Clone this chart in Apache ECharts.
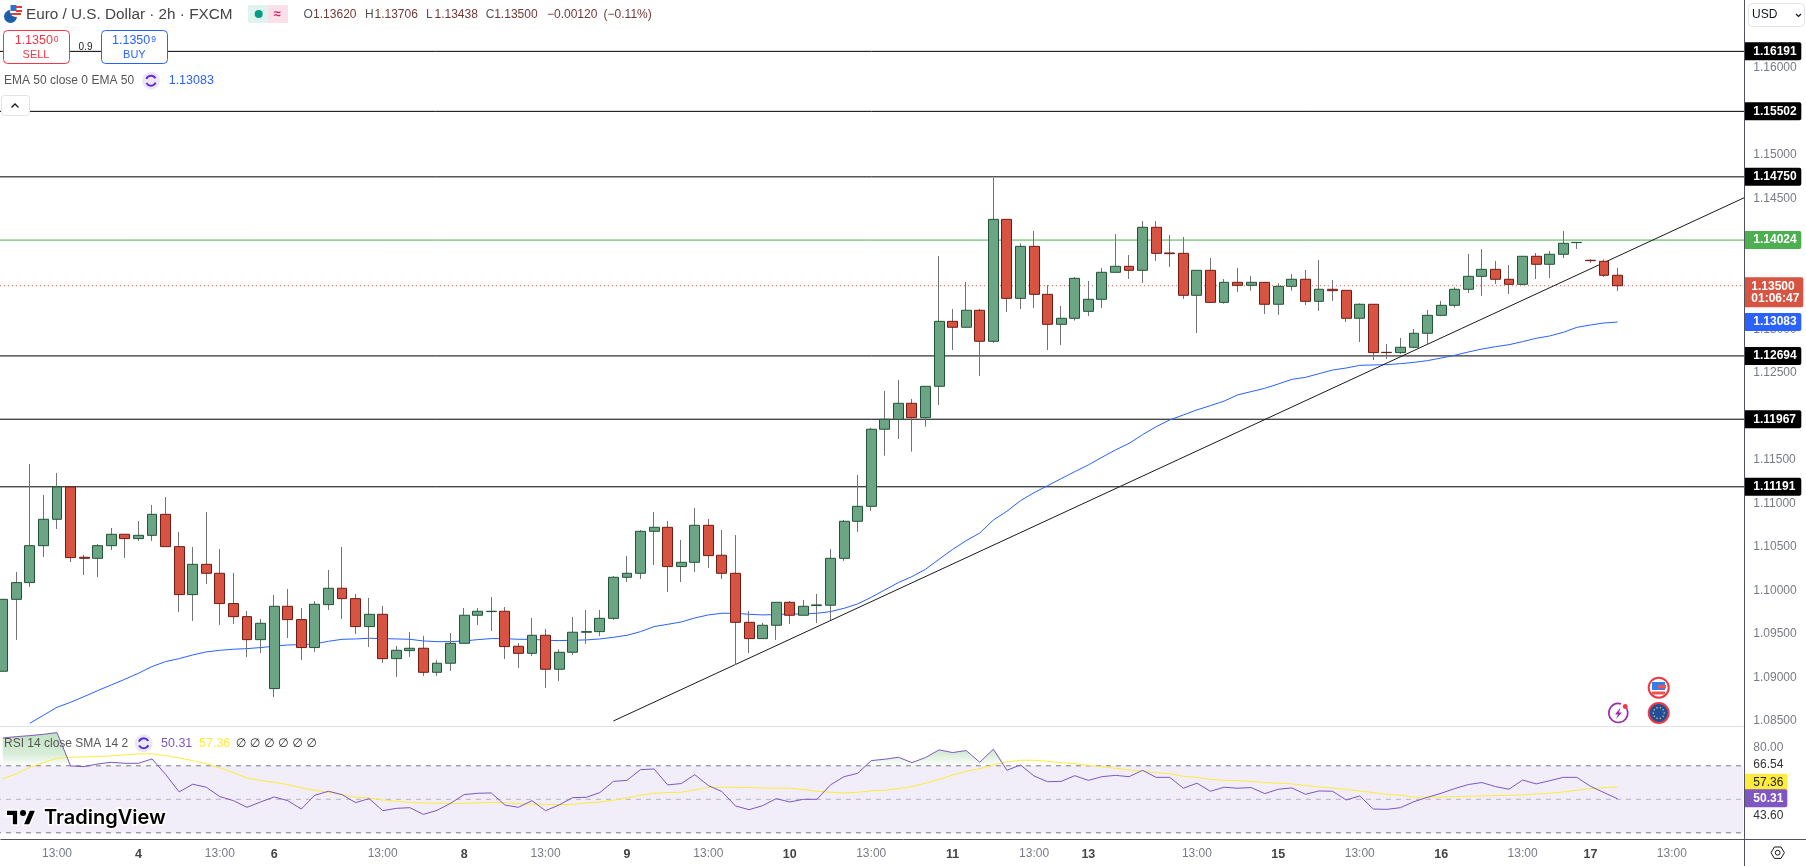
<!DOCTYPE html>
<html><head><meta charset="utf-8"><title>EUR/USD 2h</title>
<style>html,body{margin:0;padding:0;background:#fff}#c{width:1806px;height:866px}</style>
<script src="https://cdn.jsdelivr.net/npm/echarts@6/dist/echarts.min.js"></script>
</head><body><div id="c"></div>
<script>
const candleOpen=[1.09073,1.09899,1.10091,1.10515,1.10818,1.11189,1.10382,1.10370,1.10515,1.10646,
1.10596,1.10634,1.10875,1.10504,1.09953,1.10301,1.10198,1.09850,1.09700,1.09436,
1.08874,1.09819,1.09666,1.09345,1.09838,1.10026,1.09907,1.09586,1.09727,1.09218,
1.09310,1.09337,1.09061,1.09165,1.09394,1.09716,1.09758,1.09762,1.09360,1.09279,
1.09486,1.09096,1.09291,1.09521,1.09528,1.09681,1.10152,1.10198,1.10680,1.10726,
1.10275,1.10324,1.10749,1.10405,1.10198,1.09635,1.09448,1.09601,1.09865,1.09716,
1.09827,1.09831,1.10370,1.10795,1.10967,1.11852,1.11966,1.12150,1.11985,1.12345,
1.13091,1.13023,1.13218,1.12862,1.14262,1.13355,1.13952,1.13401,1.13057,1.13126,
1.13206,1.13344,1.13654,1.13723,1.13677,1.14171,1.13876,1.13872,1.13390,1.13677,
1.13309,1.13539,1.13505,1.13539,1.13287,1.13493,1.13574,1.13321,1.13459,1.13447,
1.13126,1.13287,1.12735,1.12732,1.12793,1.12954,1.13160,1.13275,1.13459,1.13608,
1.13688,1.13574,1.13516,1.13838,1.13746,1.13861,1.13995,1.13792,1.13780,1.13620];
const candleHigh=[1.09899,1.10213,1.11453,1.11097,1.11350,1.11189,1.10408,1.10535,1.10718,1.10646,
1.10799,1.10982,1.11074,1.10672,1.10500,1.10902,1.10477,1.10202,1.09766,1.09674,
1.09949,1.10018,1.09800,1.09880,1.10236,1.10500,1.09961,1.09915,1.09823,1.09364,
1.09525,1.09479,1.09203,1.09513,1.09800,1.09800,1.09926,1.09811,1.09398,1.09685,
1.09559,1.09326,1.09697,1.09777,1.09777,1.10167,1.10397,1.10695,1.10902,1.10799,
1.10581,1.10948,1.10822,1.10695,1.10638,1.09766,1.09628,1.09865,1.09880,1.09892,
1.09961,1.10477,1.10810,1.11327,1.11870,1.12292,1.12418,1.12200,1.12345,1.13842,
1.13233,1.13543,1.13233,1.14737,1.14262,1.13987,1.14128,1.13508,1.13267,1.13600,
1.13554,1.13704,1.14094,1.13853,1.14243,1.14243,1.14083,1.14060,1.13677,1.13818,
1.13577,1.13704,1.13612,1.13539,1.13528,1.13635,1.13681,1.13796,1.13566,1.13447,
1.13298,1.13287,1.12831,1.12900,1.13003,1.13221,1.13325,1.13482,1.13864,1.13922,
1.13784,1.13738,1.13838,1.13876,1.13899,1.14128,1.13998,1.13803,1.13803,1.13706];
const candleLow=[1.09073,1.09433,1.10041,1.10385,1.10707,1.10328,1.10179,1.10156,1.10466,1.10374,
1.10569,1.10569,1.10504,1.09754,1.09651,1.10075,1.09605,1.09616,1.09237,1.09283,
1.08778,1.09455,1.09203,1.09295,1.09777,1.09674,1.09502,1.09352,1.09169,1.09008,
1.09237,1.09019,1.09019,1.09077,1.09394,1.09605,1.09536,1.09214,1.09111,1.09249,
1.08881,1.08962,1.09260,1.09387,1.09478,1.09662,1.10098,1.10133,1.10294,1.09983,
1.10098,1.10213,1.10259,1.10133,1.09146,1.09283,1.09448,1.09433,1.09616,1.09716,
1.09628,1.09662,1.10340,1.10672,1.10914,1.11549,1.11741,1.11595,1.11882,1.12131,
1.12762,1.13023,1.12464,1.12843,1.13199,1.13233,1.13244,1.12762,1.12820,1.13099,
1.13153,1.13244,1.13654,1.13578,1.13531,1.13784,1.13715,1.13348,1.12957,1.13309,
1.13294,1.13428,1.13443,1.13176,1.13164,1.13443,1.13279,1.13210,1.13325,1.13084,
1.12854,1.12647,1.12659,1.12716,1.12781,1.12831,1.13149,1.13248,1.13417,1.13382,
1.13520,1.13405,1.13505,1.13577,1.13589,1.13818,1.13922,1.13761,1.13600,1.13438];
const candleClose=[1.09899,1.10091,1.10515,1.10818,1.11189,1.10378,1.10370,1.10515,1.10646,1.10596,
1.10634,1.10875,1.10504,1.09953,1.10301,1.10198,1.09850,1.09700,1.09436,1.09624,
1.09819,1.09666,1.09345,1.09842,1.10026,1.09907,1.09586,1.09727,1.09218,1.09314,
1.09337,1.09061,1.09165,1.09394,1.09716,1.09762,1.09762,1.09356,1.09279,1.09486,
1.09096,1.09291,1.09521,1.09528,1.09681,1.10152,1.10198,1.10680,1.10726,1.10275,
1.10324,1.10749,1.10401,1.10198,1.09635,1.09448,1.09601,1.09865,1.09716,1.09819,
1.09835,1.10370,1.10795,1.10967,1.11852,1.11966,1.12150,1.11985,1.12345,1.13091,
1.13023,1.13218,1.12862,1.14262,1.13355,1.13952,1.13401,1.13057,1.13126,1.13585,
1.13344,1.13654,1.13723,1.13677,1.14171,1.13872,1.13868,1.13390,1.13677,1.13309,
1.13539,1.13505,1.13539,1.13287,1.13493,1.13574,1.13321,1.13459,1.13443,1.13126,
1.13287,1.12732,1.12732,1.12793,1.12954,1.13160,1.13275,1.13459,1.13608,1.13688,
1.13574,1.13516,1.13838,1.13746,1.13861,1.13987,1.13998,1.13788,1.13620,1.13500];
const emaValues=[null,null,1.08476,1.08568,1.08659,1.08717,1.08782,1.08851,1.08916,1.08981,
1.09050,1.09127,1.09184,1.09218,1.09260,1.09295,1.09314,1.09326,1.09333,1.09345,
1.09360,1.09375,1.09379,1.09387,1.09417,1.09440,1.09444,1.09452,1.09448,1.09444,
1.09440,1.09421,1.09413,1.09413,1.09421,1.09436,1.09448,1.09448,1.09440,1.09440,
1.09429,1.09425,1.09429,1.09433,1.09444,1.09463,1.09486,1.09528,1.09586,1.09612,
1.09639,1.09685,1.09720,1.09739,1.09739,1.09727,1.09720,1.09724,1.09731,1.09731,
1.09739,1.09758,1.09796,1.09846,1.09922,1.10007,1.10091,1.10160,1.10244,1.10359,
1.10473,1.10573,1.10661,1.10810,1.10910,1.11032,1.11124,1.11204,1.11285,1.11365,
1.11442,1.11530,1.11614,1.11690,1.11790,1.11882,1.11959,1.12016,1.12074,1.12123,
1.12175,1.12246,1.12284,1.12322,1.12372,1.12425,1.12448,1.12490,1.12532,1.12555,
1.12586,1.12590,1.12594,1.12605,1.12620,1.12640,1.12670,1.12701,1.12739,1.12773,
1.12800,1.12823,1.12858,1.12896,1.12923,1.12965,1.13022,1.13049,1.13072,1.13083];
const rsiValues=[86.6,87.4,88,88.8,89.8,69.9,69.5,71.1,72.1,71.5,
71.5,74.1,64.9,54.4,59,57.2,51.6,49.2,45.2,48.4,
51.4,49.2,44.2,52.4,54.8,52.8,48,50.4,43.2,44.6,
45,41,43.4,47.6,52.8,53.6,53.8,46.6,45.2,49.2,
43.2,46.6,51,51.2,54,60.7,61.3,67.7,68.1,58.6,
59.4,64.7,58.2,54.6,46,43.8,46.2,50.4,48.4,50,
50,58.6,63.5,65.5,73.1,73.9,75.1,71.9,74.9,79.5,
77.9,79.1,72.1,79.9,67.3,70.5,63.9,60.5,60.7,64.1,
61.3,63.5,64.3,63.5,67.3,63.1,63.1,56.6,59.6,54.8,
57.2,56.6,57,53.4,56,56.8,53,55,54.8,49.6,
52,44.2,44,45,48.6,51.2,53.6,56.4,58.8,60,
57.6,56,61.5,59.2,61.1,63.1,63.1,57.8,54,50.31];
const rsiSmaValues=[62.3,65.1,69.1,71.9,74.5,75.1,75.3,75.5,75.9,76.5,
77.1,77.1,76.1,74.7,73.1,71.3,68.7,65.9,62.7,61.3,
60.1,58.8,56.8,55.4,54.2,52.8,51.2,50.8,49.6,48.8,
48.2,47.8,47.6,47.6,47.6,47.8,48.2,48,47.4,47,
47,46.8,47,47.8,48.4,49.4,50.8,52.4,53.6,54,
54.2,55.6,57,57.2,57.2,57,56.8,56.6,56.6,55.8,
54.8,54.2,53.8,54.2,55,55.4,56.4,57.6,59.6,61.9,
64.5,66.7,68.3,70.5,72.3,73.3,73.3,72.7,71.9,71.3,
70.3,69.5,68.5,67.5,66.9,65.9,65.3,63.7,63.1,61.9,
61.3,61.1,60.7,60,59.6,59.2,58.2,57.4,56.8,55.8,
55,54,53,52.4,51.4,51.2,51.4,51.6,51.8,52,
52.2,52.4,52.6,53.2,53.6,54.4,55.4,56.4,56.9,57.36];
const blackLevels=[1.16191,1.15502,1.14750,1.12694,1.11967,1.11191];
const resistanceLevel=1.14024;
const lastClose=1.13500;
const emaLast=1.13083;
const trendStart=[45,1.08502];
const trendEnd=[128.34,1.14511];
const priceTicks=[1.085,1.09,1.095,1.10,1.105,1.11,1.115,1.12,1.125,1.13,1.135,1.14,1.145,1.15,1.155,1.16];
const rsiBands=[70,50,30];
const rsiTickValues=[80.9,70.4,40.4];
const rsiTickLabels=['80.00','66.54','43.60'];
const timeLabelIndex=[4,10,16,20,28,34,40,46,52,58,64,70,76,80,88,94,100,106,112,117,123];
const timeLabelText=['13:00','4','13:00','6','13:00','8','13:00','9','13:00','10','13:00','11','13:00','13','13:00','15','13:00','16','13:00','17','13:00'];
const slotCount=129;

const FONT='"Liberation Sans",Arial,sans-serif';
const paneEnd=128.34, idxMin=-0.5, idxMax=slotCount-0.5;
const cats=Array.from({length:slotCount},(_,i)=>{const k=timeLabelIndex.indexOf(i);return k>=0?timeLabelText[k]:'';});
const n=candleOpen.length;
const wickData=candleOpen.map((o,i)=>[o,candleClose[i],candleLow[i],candleHigh[i]]);
const bodyData=candleOpen.map((o,i)=>{const c=candleClose[i];return [o,c,Math.min(o,c),Math.max(o,c)];});
const obFill=rsiValues.map(v=>Math.max(v,70));

function tag(bg,color,extra){return Object.assign({show:true,position:'right',distance:0,backgroundColor:bg,color:color,
  fontFamily:FONT,fontSize:12,fontWeight:'bold',lineHeight:12,width:48,padding:[5,0,1,9],align:'left',borderRadius:[0,2,2,0]},extra||{});}
function level(v,color,opt){return Object.assign({type:'line',xAxisIndex:1,yAxisIndex:0,z:1,silent:true,symbol:'none',animation:false,
  data:[[idxMin,v],[paneEnd,v]],lineStyle:{color:color,width:1}},opt||{});}

const series=[];
blackLevels.forEach(v=>series.push(level(v,'#000',{endLabel:tag('#000','#fff',{formatter:()=>v.toFixed(5)})})));
series.push(level(resistanceLevel,'#4caf50',{endLabel:tag('#4caf50','#fff',{formatter:()=>resistanceLevel.toFixed(5)})}));
series.push(level(lastClose,'#d75442',{lineStyle:{color:'#d75442',width:1,type:[1,3]},z:1,
  endLabel:tag('#d75442','#fff',{formatter:()=>lastClose.toFixed(5)+'\n01:06:47',width:52,padding:[5,0,1,7],lineHeight:12,offset:[0,6.5],lineOverflow:'none',fontSize:12})}));
series.push(level(emaLast,'rgba(0,0,0,0)',{endLabel:tag('#2962ff','#fff',{formatter:()=>emaLast.toFixed(5)})}));
series.push({type:'line',xAxisIndex:0,yAxisIndex:0,data:emaValues,symbol:'none',z:1,silent:true,lineStyle:{color:'#2962ff',width:1},connectNulls:false});
series.push({type:'line',xAxisIndex:1,yAxisIndex:0,data:[trendStart,trendEnd],symbol:'none',z:2,silent:true,lineStyle:{color:'#1a1a1a',width:1}});
series.push({type:'candlestick',xAxisIndex:0,yAxisIndex:0,data:wickData,barWidth:1,z:3,silent:true,
  itemStyle:{color:'#737375',color0:'#737375',borderColor:'#737375',borderColor0:'#737375',borderWidth:1}});
series.push({type:'candlestick',xAxisIndex:0,yAxisIndex:0,data:bodyData,barWidth:10.4,z:3,silent:true,
  itemStyle:{color:'#6ba583',color0:'#d75442',borderColor:'#225437',borderColor0:'#6f1c14',borderWidth:1}});
// RSI pane
series.push({type:'line',xAxisIndex:2,yAxisIndex:1,data:obFill,symbol:'none',z:1,silent:true,lineStyle:{width:0,opacity:0},
  areaStyle:{origin:70,opacity:1,color:{type:'linear',global:true,x:0,y:727,x2:0,y2:765.3,colorStops:[{offset:0,color:'rgba(76,175,80,.4)'},{offset:0.7,color:'rgba(76,175,80,.22)'},{offset:1,color:'rgba(76,175,80,.02)'}]}}});
rsiBands.forEach((v,k)=>{
  const s={type:'line',xAxisIndex:3,yAxisIndex:1,data:[[idxMin,v],[paneEnd-0.08,v]],symbol:'none',z:1,silent:true,
    lineStyle:{color:k===1?'rgba(120,123,134,.5)':'#787b86',width:1,type:[5,5]}};
  if(k===0){s.markArea={silent:true,itemStyle:{color:'rgba(126,87,194,.1)'},data:[[{coord:[idxMin,70]},{coord:[paneEnd-0.08,30]}]]};}
  series.push(s);
});
series.push({type:'line',xAxisIndex:2,yAxisIndex:1,data:rsiSmaValues,symbol:'none',z:2,silent:true,lineStyle:{color:'#ffeb3b',width:1}});
series.push({type:'line',xAxisIndex:2,yAxisIndex:1,data:rsiValues,symbol:'none',z:3,silent:true,lineStyle:{color:'#7e57c2',width:1}});
series.push({type:'line',xAxisIndex:3,yAxisIndex:1,data:[[idxMin,rsiSmaValues[n-1]],[paneEnd,rsiSmaValues[n-1]]],symbol:'none',z:4,silent:true,lineStyle:{opacity:0},
  endLabel:tag('#ffeb3b','#222',{formatter:()=>rsiSmaValues[n-1].toFixed(2),width:34,offset:[0,-4.3],fontWeight:'normal'})});
series.push({type:'line',xAxisIndex:3,yAxisIndex:1,data:[[idxMin,rsiValues[n-1]],[paneEnd,rsiValues[n-1]]],symbol:'none',z:4,silent:true,lineStyle:{opacity:0},
  endLabel:tag('#7e57c2','#fff',{formatter:()=>rsiValues[n-1].toFixed(2),width:34,offset:[0,-0.5]})});

// overlay (chrome, legends, icons)
const G=[];
const Z=100;
function txt(t,x,y,font,fill,align,extra){G.push({type:'text',z:Z,silent:true,style:Object.assign({text:t,x:x,y:y,font:font,fill:fill,textAlign:align||'left',textVerticalAlign:'middle'},extra||{})});}
function rect(x,y,w,h,fill,stroke,r){G.push({type:'rect',z:Z,silent:true,shape:{x,y,width:w,height:h,r:r||0},style:{fill:fill,stroke:stroke||null,lineWidth:1}});}
function circ(cx,cy,r,fill,stroke,lw){G.push({type:'circle',z:Z,silent:true,shape:{cx,cy,r},style:{fill:fill,stroke:stroke||null,lineWidth:lw||1}});}
function seg(x1,y1,x2,y2,c,z){G.push({type:'line',z:z||50,silent:true,shape:{x1,y1,x2,y2},style:{stroke:c,lineWidth:1}});}
function arc(cx,cy,r,a,b,c,lw){G.push({type:'arc',z:Z,silent:true,shape:{cx,cy,r,startAngle:a,endAngle:b},style:{stroke:c,lineWidth:lw||1.5,fill:null}});}
function poly(pts,fill,stroke,lw){G.push({type:'polygon',z:Z,silent:true,shape:{points:pts},style:{fill:fill,stroke:stroke||null,lineWidth:lw||1}});}
function sync(cx,cy){circ(cx,cy,9,'#ede7f6');arc(cx,cy,5,0.4,2.7,'#5b2fe0',2);arc(cx,cy,5,3.5,5.8,'#5b2fe0',2);}

seg(0,726.5,1744,726.5,'#e0e3eb');
seg(0.5,839.5,1806,839.5,'#50535e');
seg(1744.5,0,1744.5,866,'#50535e');
// symbol logo
circ(10.5,16.5,6.5,'#1d5fa8');
circ(16,11,6,'#ffffff');
rect(10.5,5,6,6,'#2f6fd0');
rect(16,6,6,2,'#e53935');rect(16,10,6,2,'#e53935');rect(11,13,10,2,'#e53935');
const F12='12px '+FONT;
txt('Euro / U.S. Dollar · 2h · FXCM',26,15,'15.3px '+FONT,'#444');
rect(248,5,20,18,'#dff3ef');rect(268,5,20,18,'#fbdfe9');
circ(258.7,14,4,'#089981');
txt('≈',277,14,'bold 13px '+FONT,'#e91e63','center');
const ohlcLabel='#555',ohlcVal='#6f3a35';
[['O',303.6,'1.13620'],['H',365,'1.13706'],['L',426,'1.13438'],['C',485.7,'1.13500']].forEach(a=>{
  txt(a[0],a[1],15,F12,ohlcLabel);txt(a[2],a[1]+(a[0]==='L'||a[0]==='C'?8.5:9.5),15,F12,ohlcVal);});
txt('−0.00120',547,15,F12,ohlcVal);
txt('(−0.11%)',603.6,15,F12,ohlcVal);
// sell / buy
rect(3.5,30.5,66,33,'#fff','#f23645',4);
rect(101.5,30.5,66,33,'#fff','#2962ff',4);
txt('1.1350',14.7,41,'12.5px '+FONT,'#f23645');txt('0',53.8,39.5,'8.5px '+FONT,'#f23645');
txt('SELL',36,55,'11px '+FONT,'#f23645','center');
txt('1.1350',112,41,'12.5px '+FONT,'#2962ff');txt('9',151.2,39.5,'8.5px '+FONT,'#2962ff');
txt('BUY',134.4,55,'11px '+FONT,'#2962ff','center');
txt('0.9',85.5,47,'10px '+FONT,'#222','center');
// EMA legend
txt('EMA 50 close 0 EMA 50',4,81,'12px '+FONT,'#555');
sync(151,80.7);
txt('1.13083',168.7,81,'12.5px '+FONT,'#2962ff');
rect(1.5,95.5,28,20,'#fff','#e0e3eb',3);
G.push({type:'polyline',z:Z,silent:true,shape:{points:[[11.5,107.5],[15,104],[18.5,107.5]]},style:{stroke:'#131722',lineWidth:1.3,fill:null}});
// USD
rect(1748.5,3.5,56,23,'#fff','#e0e3eb',4);
txt('USD',1752,15,'12px '+FONT,'#131722');
G.push({type:'polyline',z:Z,silent:true,shape:{points:[[1796,14],[1798.5,16.5],[1801,14]]},style:{stroke:'#131722',lineWidth:1.2,fill:null}});
// RSI legend
txt('RSI 14 close SMA 14 2',4,743.5,'12px '+FONT,'#555');
sync(143.7,743.3);
txt('50.31',161,743.5,'12.5px '+FONT,'#7e57c2');
txt('57.36',199,743.5,'12.5px '+FONT,'#ffeb3b');
for(let i=0;i<6;i++)txt('∅',241+i*14.1,743.5,'12px "DejaVu Sans"','#333','center');
// TV logo
poly([[17.9,825],[12.1,825],[12.1,815.8],[6.2,815.8],[6.2,810],[17.9,810]],'#000','#fff',1.5);
poly([[29.7,825],[23,825],[29.3,810],[36,810]],'#000','#fff',1.5);
circ(23,813,3,'#000');
txt('TradingView',44,818,'600 20px Inter, '+FONT,'#000','left',{stroke:'#fff',lineWidth:3,strokeFirst:true});
// event icons
circ(1658.7,687.7,10,'#fff','#f23645',2);
rect(1652,682,13,8,'#2f80ed');rect(1658,685,8,3.5,'#ef5350');rect(1652,691.5,13,3,'#ef5350');
circ(1658.7,713,10,'#1d4f9c','#f23645',2);
for(let k=0;k<10;k++){const a=k*Math.PI/5;circ(1658.7+5.5*Math.cos(a),713+5.5*Math.sin(a),0.8,'#f2c94c');}
arc(1618.3,713,9.5,-0.9,5.0,'#9c27b0',1.7);
circ(1625.2,706.5,2.4,'#f23645');
poly([[1620.5,707.5],[1615,714.5],[1618,714.5],[1616,719],[1622,712.5],[1619,712.5]],'#9c27b0');
// settings
poly([[1771,852.7],[1774.4,847],[1781,847],[1784.4,852.7],[1781,858.4],[1774.4,858.4]],'#fff','#131722',1);
circ(1777.7,852.7,2.4,'#fff','#131722',1);

const chart=echarts.init(document.getElementById('c'),null,{renderer:'canvas'});
const gridLeft=-4.05, gridW=1750.53;
chart.setOption({
  animation:false,backgroundColor:'#fff',tooltip:{show:false},legend:{show:false},
  grid:[{left:gridLeft,top:0,width:gridW,height:726.5,outerBoundsMode:'none'},{left:gridLeft,top:727,width:gridW,height:112,outerBoundsMode:'none'}],
  xAxis:[
   {type:'category',gridIndex:0,data:cats,boundaryGap:true,axisLine:{show:false},axisTick:{show:false},axisLabel:{show:false},splitLine:{show:false}},
   {type:'value',gridIndex:0,min:idxMin,max:idxMax,show:false,position:'top'},
   {type:'category',gridIndex:1,data:cats,boundaryGap:true,axisLine:{show:false},axisTick:{show:false},splitLine:{show:false},
    axisLabel:{interval:0,margin:9,fontFamily:FONT,fontSize:12,color:'#787b86',hideOverlap:false,
      formatter:v=>v===''?'':(v.indexOf(':')>=0?v:'{d|'+v+'}'),rich:{d:{color:'#444',fontFamily:FONT,fontSize:12.5,fontWeight:'bold'}}}},
   {type:'value',gridIndex:1,min:idxMin,max:idxMax,show:false,position:'top'}
  ],
  yAxis:[
   {type:'value',gridIndex:0,position:'right',offset:-2.18,min:1.084387,max:1.167808,scale:true,
    axisLine:{show:false},axisTick:{show:false},splitLine:{show:false},
    axisLabel:{customValues:priceTicks,margin:9,padding:[4,0,0,0],fontFamily:FONT,fontSize:12,color:'#787b86',hideOverlap:false,showMinLabel:true,showMaxLabel:true,formatter:v=>v.toFixed(5)}},
   {type:'value',gridIndex:1,position:'right',offset:-2.18,min:26.3,max:93.16,scale:true,
    axisLine:{show:false},axisTick:{show:false},splitLine:{show:false},
    axisLabel:{customValues:rsiTickValues,margin:9,padding:[4,0,0,0],fontFamily:FONT,fontSize:12,hideOverlap:false,
      color:v=>v>75?'#787b86':'#333',formatter:v=>rsiTickLabels[rsiTickValues.indexOf(v)]}}
  ],
  series:series,
  graphic:{elements:G}
});
</script></body></html>
